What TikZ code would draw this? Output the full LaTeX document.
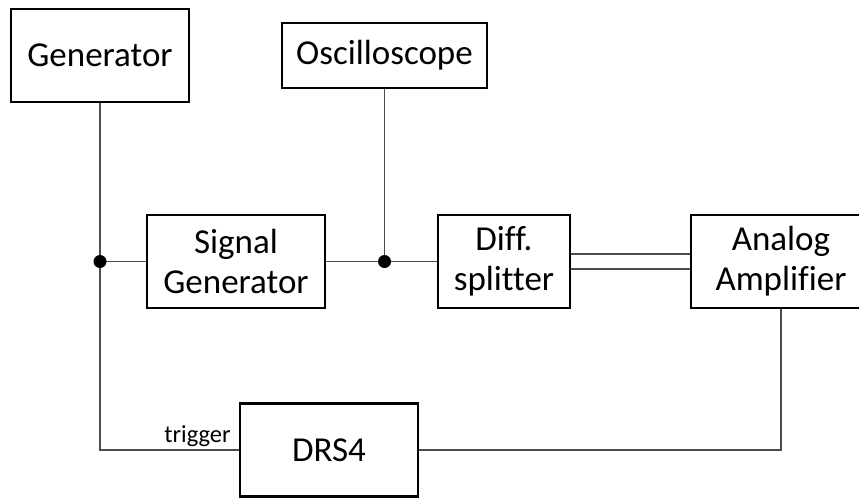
\documentclass[tikz,border=0pt]{standalone}
\usepackage{fontspec}
\setmainfont{Carlito}[Ligatures={NoCommon}]
\begin{document}
\begin{tikzpicture}[x=1pt,y=-1pt,
  blk/.style={draw=black, line width=2.4pt, fill=white, align=center, inner sep=0pt,
    font=\fontsize{35}{40}\selectfont},
  wire/.style={draw=black!70, line width=1.6pt},
  jdot/.style={circle, fill=black, inner sep=0pt, minimum size=13pt}]
\useasboundingbox (0,0) rectangle (859,498);
\clip (0,0) rectangle (859,498);
\node[blk, minimum width=178pt, minimum height=93pt] (gen) at (100,55.5) {Generator};
\node[blk, minimum width=205pt, minimum height=65pt] (osc) at (384.5,55.5) {Oscilloscope};
\node[blk, minimum width=178pt, minimum height=93pt] (sig) at (236,261.5) {Signal\\Generator};
\node[blk, minimum width=132pt, minimum height=93pt] (diff) at (504,261.5) {Diff.\\splitter};
\node[blk, minimum width=180pt, minimum height=93pt] (amp) at (781,261.5) {Analog\\Amplifier};
\node[blk, minimum width=178pt, minimum height=93pt] (drs) at (329,450) {DRS4};
\coordinate (j1) at (gen.south |- sig.west);
\coordinate (j2) at (osc.south |- sig.east);
\draw[wire] (gen.south) -- (gen.south |- drs.west) -- (drs.west);
\draw[wire] (j1) -- (sig.west);
\draw[wire] (sig.east) -- (diff.west);
\draw[wire] (osc.south) -- (j2);
\draw[wire] ([yshift=7.5pt]diff.east) -- ([yshift=7.5pt]diff.east -| amp.west);
\draw[wire] ([yshift=-7.5pt]diff.east) -- ([yshift=-7.5pt]diff.east -| amp.west);
\draw[wire] (amp.south) -- (amp.south |- drs.east) -- (drs.east);
\node[jdot] (d1) at (j1) {};
\node[jdot] (d2) at (j2) {};
\node[anchor=base east, inner sep=0pt, font=\fontsize{24.5}{28}\selectfont] (trig) at ([xshift=-8pt,yshift=8pt]drs.west) {trigger};
\end{tikzpicture}
\end{document}
